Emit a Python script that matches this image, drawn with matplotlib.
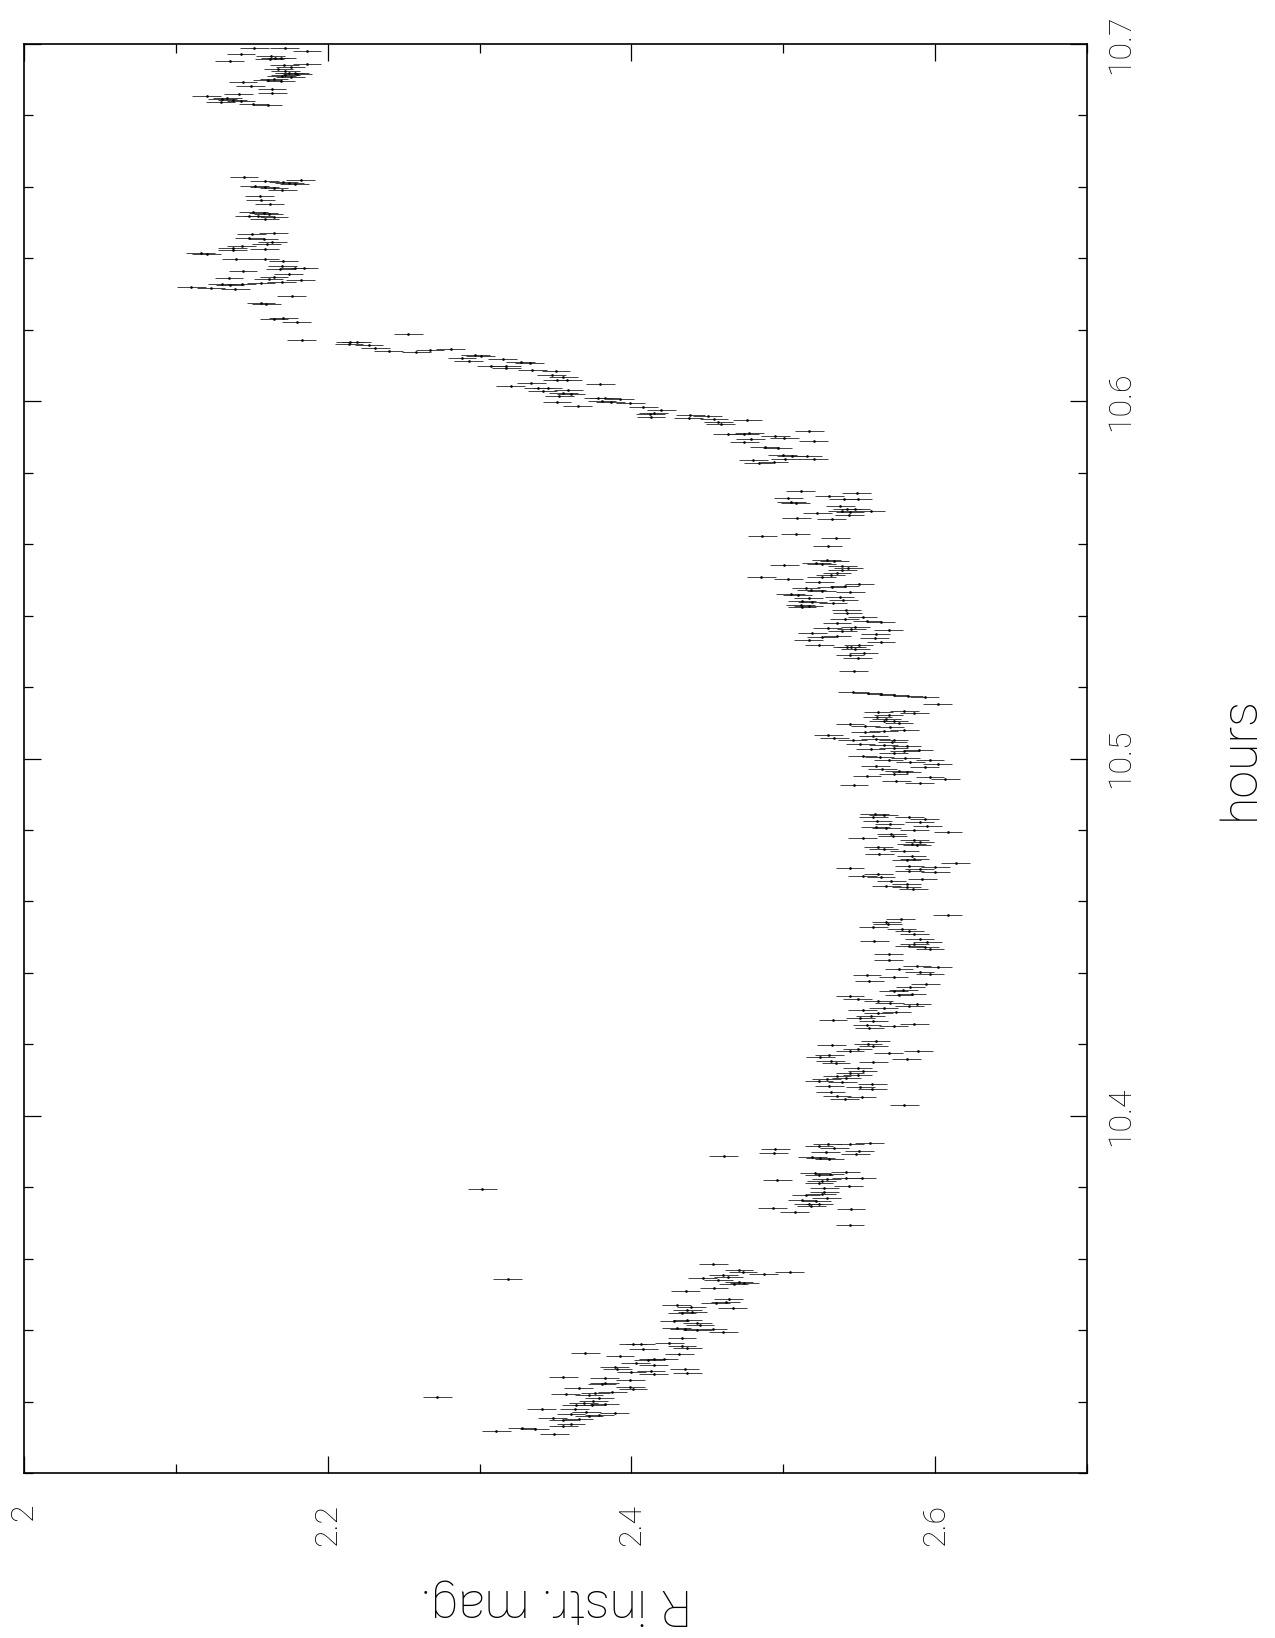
import matplotlib
matplotlib.use("Agg")
import matplotlib.pyplot as plt
from matplotlib.ticker import MultipleLocator, FixedLocator, FixedFormatter

plt.rcParams['font.family'] = ['Roboto', 'DejaVu Sans']

# (hours, R instr. mag.), top to bottom
group_top = [
    (10.6990, 2.1517), (10.6988, 2.1718), (10.6980, 2.1864), (10.6971, 2.1429),
    (10.6967, 2.1626), (10.6953, 2.1354), (10.6958, 2.1619), (10.6960, 2.1653),
    (10.6962, 2.1694), (10.6944, 2.1864), (10.6941, 2.1714), (10.6936, 2.1755),
    (10.6929, 2.1674), (10.6925, 2.1721), (10.6920, 2.1782), (10.6918, 2.1748),
    (10.6917, 2.1799), (10.6913, 2.1721), (10.6910, 2.1697), (10.6908, 2.1755),
    (10.6902, 2.1646), (10.6899, 2.1606), (10.6897, 2.1691), (10.6893, 2.1442),
    (10.6883, 2.1493), (10.6874, 2.1633), (10.6862, 2.1636), (10.6859, 2.1415),
    (10.6854, 2.1204), (10.6849, 2.1340), (10.6845, 2.1306), (10.6843, 2.1374),
    (10.6839, 2.1296), (10.6840, 2.1429), (10.6833, 2.1510), (10.6829, 2.1606),
]

group_upper = [
    (10.6628, 2.1449), (10.6616, 2.1585), (10.6613, 2.1708), (10.6619, 2.1823),
    (10.6610, 2.1748), (10.6608, 2.1782), (10.6602, 2.1520), (10.6600, 2.1585),
    (10.6598, 2.1646), (10.6591, 2.1701), (10.6575, 2.1551), (10.6563, 2.1558),
    (10.6552, 2.1619), (10.6531, 2.1510), (10.6528, 2.1578), (10.6524, 2.1612),
    (10.6519, 2.1483), (10.6518, 2.1544), (10.6516, 2.1646), (10.6510, 2.1585),
    (10.6472, 2.1643), (10.6467, 2.1500), (10.6457, 2.1483), (10.6454, 2.1578),
    (10.6446, 2.1636), (10.6439, 2.1599), (10.6434, 2.1435), (10.6430, 2.1374),
    (10.6423, 2.1374), (10.6426, 2.1585), (10.6416, 2.1163), (10.6413, 2.1204),
    (10.6399, 2.1398), (10.6397, 2.1585), (10.6393, 2.1708), (10.6379, 2.1701),
    (10.6374, 2.1782), (10.6373, 2.1844), (10.6369, 2.1687), (10.6365, 2.1442),
    (10.6356, 2.1742), (10.6348, 2.1646), (10.6346, 2.1350), (10.6342, 2.1612),
    (10.6338, 2.1823), (10.6335, 2.1697), (10.6332, 2.1561), (10.6328, 2.1435),
    (10.6327, 2.1306), (10.6325, 2.1357), (10.6320, 2.1102), (10.6318, 2.1231),
    (10.6314, 2.1391), (10.6296, 2.1762), (10.6274, 2.1561), (10.6272, 2.1595),
    (10.6233, 2.1708), (10.6229, 2.1646), (10.6222, 2.1796), (10.6172, 2.1830),
]

group_ramp = [
    (10.6188, 2.2531), (10.6167, 2.2150), (10.6165, 2.2190), (10.6161, 2.2140),
    (10.6158, 2.2272), (10.6149, 2.2313), (10.6140, 2.2401), (10.6138, 2.2582),
    (10.6144, 2.2674), (10.6146, 2.2810), (10.6130, 2.2973), (10.6126, 2.3007),
    (10.6120, 2.2884), (10.6114, 2.2929), (10.6118, 2.3153), (10.6111, 2.3272),
    (10.6108, 2.3330), (10.6099, 2.3075), (10.6098, 2.3177), (10.6092, 2.3177),
    (10.6087, 2.3347), (10.6084, 2.3503), (10.6073, 2.3476), (10.6068, 2.3551),
    (10.6059, 2.3510), (10.6059, 2.3578), (10.6052, 2.3340), (10.6048, 2.3796),
    (10.6042, 2.3204), (10.6038, 2.3388), (10.6036, 2.3449), (10.6029, 2.3415),
    (10.6031, 2.3585), (10.6022, 2.3551), (10.6019, 2.3602), (10.6014, 2.3524),
    (10.6010, 2.3782), (10.6008, 2.3823), (10.6006, 2.3925), (10.6001, 2.3806),
    (10.5998, 2.3864), (10.5995, 2.3993), (10.5999, 2.3510), (10.5988, 2.3646),
    (10.5984, 2.4078), (10.5975, 2.4197), (10.5966, 2.4146), (10.5963, 2.4123),
    (10.5956, 2.4129), (10.5961, 2.4388), (10.5958, 2.4503), (10.5953, 2.4378),
    (10.5949, 2.4544), (10.5947, 2.4762), (10.5942, 2.4571), (10.5937, 2.4588),
    (10.5918, 2.5170), (10.5909, 2.4633), (10.5907, 2.4742), (10.5911, 2.4775),
    (10.5904, 2.4946), (10.5897, 2.5007), (10.5894, 2.4786), (10.5885, 2.4742),
    (10.5888, 2.5201), (10.5872, 2.4878), (10.5868, 2.4963), (10.5849, 2.4997),
    (10.5847, 2.5055), (10.5847, 2.5157), (10.5839, 2.5014), (10.5839, 2.5201),
    (10.5835, 2.4803), (10.5828, 2.4837), (10.5830, 2.4939),
]

group_min_1 = [
    (10.5749, 2.5116), (10.5743, 2.5483), (10.5730, 2.5034), (10.5734, 2.5303),
    (10.5726, 2.5398), (10.5725, 2.5490), (10.5718, 2.5054), (10.5716, 2.5082),
    (10.5708, 2.5374), (10.5699, 2.5422), (10.5697, 2.5473), (10.5693, 2.5388),
    (10.5693, 2.5575), (10.5689, 2.5439), (10.5686, 2.5225), (10.5681, 2.5435),
    (10.5672, 2.5089), (10.5670, 2.5320), (10.5623, 2.4861), (10.5628, 2.5082),
    (10.5618, 2.5344), (10.5595, 2.5293), (10.5557, 2.5286), (10.5553, 2.5337),
    (10.5548, 2.5218), (10.5545, 2.5252), (10.5542, 2.5007), (10.5538, 2.5388),
    (10.5534, 2.5429), (10.5527, 2.5388), (10.5519, 2.5354), (10.5515, 2.5313),
    (10.5509, 2.5252), (10.5507, 2.4854), (10.5503, 2.5034), (10.5493, 2.5238),
    (10.5489, 2.5500), (10.5484, 2.5405), (10.5479, 2.5320), (10.5476, 2.5150),
    (10.5471, 2.5184), (10.5468, 2.5252), (10.5465, 2.5442), (10.5460, 2.5048),
    (10.5457, 2.5095), (10.5452, 2.5371), (10.5450, 2.5167), (10.5445, 2.5395),
    (10.5440, 2.5123), (10.5438, 2.5191), (10.5435, 2.5327), (10.5431, 2.5116),
    (10.5428, 2.5167), (10.5424, 2.5123), (10.5415, 2.5415), (10.5408, 2.5422),
    (10.5396, 2.5524), (10.5390, 2.5405), (10.5383, 2.5643), (10.5385, 2.5551),
    (10.5378, 2.5354), (10.5367, 2.5473), (10.5363, 2.5449), (10.5365, 2.5293),
    (10.5359, 2.5694), (10.5356, 2.5388), (10.5352, 2.5190), (10.5348, 2.5609),
    (10.5344, 2.5354), (10.5340, 2.5252), (10.5336, 2.5602), (10.5332, 2.5167),
    (10.5326, 2.5643), (10.5319, 2.5497), (10.5317, 2.5238), (10.5312, 2.5449),
    (10.5307, 2.5473), (10.5311, 2.5422), (10.5294, 2.5531), (10.5289, 2.5439),
    (10.5280, 2.5490), (10.5244, 2.5463),
]

group_min_2 = [
    (10.5186, 2.5456), (10.5182, 2.5558), (10.5180, 2.5643), (10.5177, 2.5728),
    (10.5174, 2.5823), (10.5171, 2.5932), (10.5152, 2.6017), (10.5130, 2.5626),
    (10.5132, 2.5796), (10.5127, 2.5864), (10.5123, 2.5694), (10.5116, 2.5619),
    (10.5111, 2.5677), (10.5105, 2.5728), (10.5100, 2.5762), (10.5104, 2.5660),
    (10.5096, 2.5439), (10.5091, 2.5541), (10.5088, 2.5701), (10.5081, 2.5796),
    (10.5078, 2.5660), (10.5074, 2.5541), (10.5067, 2.5296), (10.5063, 2.5592),
    (10.5056, 2.5337), (10.5052, 2.5456), (10.5055, 2.5609), (10.5051, 2.5728),
    (10.5045, 2.5718), (10.5040, 2.5507), (10.5037, 2.5660), (10.5034, 2.5813),
    (10.5029, 2.5728), (10.5027, 2.5575), (10.5023, 2.5891), (10.5020, 2.5796),
    (10.5016, 2.5728), (10.5007, 2.5524), (10.5004, 2.5636), (10.5001, 2.5803),
    (10.4997, 2.5966), (10.4995, 2.5694), (10.4990, 2.5837), (10.4985, 2.6017),
    (10.4980, 2.5609), (10.4977, 2.5932), (10.4972, 2.5653), (10.4966, 2.5762),
    (10.4961, 2.5813), (10.4957, 2.5728), (10.4951, 2.5551), (10.4947, 2.5966),
    (10.4944, 2.6068), (10.4938, 2.5745), (10.4931, 2.5898), (10.4927, 2.5466),
]

group_min_3 = [
    (10.4846, 2.5602), (10.4842, 2.5660), (10.4837, 2.5592), (10.4835, 2.5830),
    (10.4830, 2.5932), (10.4824, 2.5619), (10.4821, 2.5898), (10.4817, 2.5701),
    (10.4812, 2.5949), (10.4809, 2.5609), (10.4805, 2.5677), (10.4800, 2.5864),
    (10.4794, 2.6085), (10.4789, 2.5711), (10.4783, 2.5721), (10.4777, 2.5524),
    (10.4772, 2.5864), (10.4767, 2.5898), (10.4762, 2.5847), (10.4758, 2.5881),
    (10.4751, 2.5626), (10.4748, 2.5660), (10.4742, 2.5796), (10.4733, 2.5633),
    (10.4726, 2.5847), (10.4719, 2.5864), (10.4716, 2.5813), (10.4707, 2.6136),
    (10.4700, 2.5830), (10.4697, 2.6000), (10.4694, 2.5439), (10.4690, 2.5898),
    (10.4686, 2.5830), (10.4683, 2.6000), (10.4677, 2.5626), (10.4672, 2.5524),
    (10.4667, 2.5643), (10.4664, 2.5915), (10.4658, 2.5711), (10.4650, 2.5813),
    (10.4644, 2.5677), (10.4639, 2.5813), (10.4635, 2.5857),
]

group_min_4 = [
    (10.4563, 2.6083), (10.4552, 2.5772), (10.4543, 2.5677), (10.4536, 2.5687),
    (10.4527, 2.5592), (10.4522, 2.5779), (10.4518, 2.5830), (10.4510, 2.5864),
    (10.4496, 2.5898), (10.4490, 2.5599), (10.4485, 2.5949), (10.4480, 2.5864),
    (10.4475, 2.5830), (10.4471, 2.5932), (10.4466, 2.5966), (10.4452, 2.5694),
    (10.4437, 2.5694), (10.4420, 2.5881), (10.4415, 2.6017), (10.4410, 2.5762),
    (10.4403, 2.5898), (10.4396, 2.5966), (10.4393, 2.5551), (10.4387, 2.5728),
    (10.4378, 2.5565), (10.4370, 2.5939), (10.4359, 2.5837), (10.4352, 2.5789),
    (10.4348, 2.5728), (10.4342, 2.5847), (10.4339, 2.5762), (10.4334, 2.5439),
    (10.4327, 2.5490), (10.4322, 2.5626), (10.4315, 2.5701), (10.4312, 2.5881),
    (10.4308, 2.5830), (10.4303, 2.5660), (10.4297, 2.5524), (10.4291, 2.5745),
    (10.4287, 2.5626), (10.4280, 2.5575), (10.4275, 2.5507), (10.4269, 2.5327),
    (10.4264, 2.5592), (10.4258, 2.5864), (10.4254, 2.5551), (10.4250, 2.5728),
    (10.4247, 2.5565),
]

group_min_5 = [
    (10.4210, 2.5609), (10.4198, 2.5320), (10.4202, 2.5558), (10.4194, 2.5592),
    (10.4187, 2.5490), (10.4182, 2.5439), (10.4180, 2.5888), (10.4175, 2.5694),
    (10.4171, 2.5303), (10.4165, 2.5245), (10.4159, 2.5813), (10.4154, 2.5313),
    (10.4151, 2.5592), (10.4148, 2.5347), (10.4135, 2.5490), (10.4124, 2.5524),
    (10.4119, 2.5439), (10.4115, 2.5490), (10.4110, 2.5354), (10.4105, 2.5415),
    (10.4102, 2.5286), (10.4098, 2.5235), (10.4094, 2.5388), (10.4090, 2.5585),
    (10.4083, 2.5303), (10.4081, 2.5507), (10.4076, 2.5585), (10.4066, 2.5313),
    (10.4056, 2.5354), (10.4053, 2.5517), (10.4046, 2.5405), (10.4031, 2.5796),
]

group_min_6 = [
    (10.3925, 2.5568), (10.3922, 2.5293), (10.3920, 2.5439), (10.3914, 2.5235),
    (10.3911, 2.5337), (10.3908, 2.4948), (10.3902, 2.5500), (10.3896, 2.4938),
    (10.3899, 2.5279), (10.3893, 2.5476), (10.3885, 2.5191), (10.3881, 2.5245),
    (10.3878, 2.5303), (10.3887, 2.4609), (10.3840, 2.5208), (10.3843, 2.5412),
    (10.3836, 2.5306), (10.3833, 2.5235), (10.3827, 2.5415), (10.3826, 2.5517),
    (10.3822, 2.5286), (10.3820, 2.4960), (10.3816, 2.5252), (10.3812, 2.5235),
    (10.3803, 2.5432), (10.3799, 2.5269), (10.3787, 2.5269), (10.3781, 2.5252),
    (10.3778, 2.5150), (10.3771, 2.5286), (10.3765, 2.5123), (10.3762, 2.5218),
    (10.3754, 2.5167), (10.3752, 2.5235), (10.3747, 2.5184), (10.3743, 2.4929),
    (10.3740, 2.5446), (10.3731, 2.5075), (10.3694, 2.5439), (10.3794, 2.3017),
]

group_decline = [
    (10.3586, 2.4538), (10.3568, 2.4708), (10.3563, 2.4735), (10.3563, 2.5041),
    (10.3558, 2.4871), (10.3553, 2.4605), (10.3549, 2.4639), (10.3545, 2.4469),
    (10.3540, 2.4571), (10.3536, 2.4708), (10.3532, 2.4742), (10.3528, 2.4674),
    (10.3542, 2.3184), (10.3518, 2.4544), (10.3510, 2.4357), (10.3488, 2.4640),
    (10.3480, 2.4622), (10.3475, 2.4554), (10.3469, 2.4299), (10.3466, 2.4395),
    (10.3461, 2.4667), (10.3457, 2.4367), (10.3452, 2.4401), (10.3449, 2.4333),
    (10.3429, 2.4367), (10.3425, 2.4282), (10.3420, 2.4435), (10.3415, 2.4452),
    (10.3407, 2.4299), (10.3404, 2.4537), (10.3403, 2.4350), (10.3400, 2.4435),
    (10.3396, 2.4605), (10.3377, 2.4333), (10.3365, 2.4248), (10.3362, 2.4010),
    (10.3360, 2.4061), (10.3355, 2.4333), (10.3351, 2.4367), (10.3347, 2.4078),
    (10.3336, 2.3697), (10.3333, 2.4316), (10.3327, 2.3925), (10.3320, 2.4146),
    (10.3316, 2.4112), (10.3318, 2.4214), (10.3309, 2.4027), (10.3303, 2.4146),
    (10.3298, 2.3891), (10.3292, 2.3908), (10.3291, 2.4350), (10.3286, 2.4129),
    (10.3284, 2.4000), (10.3281, 2.4367), (10.3276, 2.4146), (10.3270, 2.3551),
    (10.3266, 2.3823), (10.3261, 2.3993), (10.3253, 2.3823), (10.3248, 2.3806),
    (10.3242, 2.3993), (10.3239, 2.3653), (10.3234, 2.4010), (10.3228, 2.3874),
    (10.3225, 2.3762), (10.3222, 2.3568), (10.3218, 2.3721), (10.3209, 2.3789),
    (10.3202, 2.3748), (10.3197, 2.3687), (10.3193, 2.3823), (10.3190, 2.3636),
    (10.3189, 2.3738), (10.3180, 2.3626), (10.3178, 2.3408), (10.3172, 2.3704),
    (10.3168, 2.3891), (10.3166, 2.3602), (10.3163, 2.3789), (10.3160, 2.3721),
    (10.3155, 2.3483), (10.3152, 2.3653), (10.3147, 2.3551), (10.3136, 2.3602),
    (10.3131, 2.3551), (10.3125, 2.3279), (10.3122, 2.3364), (10.3118, 2.3109),
    (10.3108, 2.3493), (10.3214, 2.2721),
]

mag_err = 0.0095

x_ticks = [2.0, 2.2, 2.4, 2.6]
x_ticklabels = ["2", "2.2", "2.4", "2.6"]
y_ticks = [10.4, 10.5, 10.6, 10.7]
y_ticklabels = ["10.4", "10.5", "10.6", "10.7"]

groups = [group_top, group_upper, group_ramp, group_min_1, group_min_2,
          group_min_3, group_min_4, group_min_5, group_min_6, group_decline]
hours = [h for g in groups for h, m in g]
mag = [m for g in groups for h, m in g]

fig = plt.figure(figsize=(12.75, 16.38), dpi=100)
ax = fig.add_axes([24 / 1275, 1 - 1473 / 1638, 1063 / 1275, 1429 / 1638])

ax.errorbar(mag, hours, xerr=mag_err, fmt='.', ms=1.8, color='black',
            ecolor='#222222', elinewidth=0.6, capsize=0)

ax.set_xlim(2.0, 2.7)
ax.set_ylim(10.3, 10.7)

ax.xaxis.set_major_locator(FixedLocator(x_ticks))
ax.xaxis.set_major_formatter(FixedFormatter(x_ticklabels))
ax.xaxis.set_minor_locator(MultipleLocator(0.1))
ax.yaxis.set_major_locator(FixedLocator(y_ticks))
ax.yaxis.set_major_formatter(FixedFormatter(y_ticklabels))
ax.yaxis.set_minor_locator(MultipleLocator(0.02))

ax.tick_params(which='both', direction='in', top=True, bottom=True,
               left=True, right=True, labelleft=False, labelright=True,
               width=0.9, colors='black')
ax.tick_params(which='major', length=12)
ax.tick_params(which='minor', length=6.5)
ax.tick_params(axis='x', which='major', pad=22, labelsize=23, labelrotation=90)
ax.tick_params(axis='y', which='major', pad=14, labelsize=23, labelrotation=90)
for lab in ax.get_yticklabels():
    lab.set_va('center')

for sp in ax.spines.values():
    sp.set_linewidth(1.2)

ax.set_xlabel("R instr. mag.", fontsize=36, rotation=180, va='center')
ax.xaxis.set_label_coords(0.5, -0.091)
ax.yaxis.set_label_position('right')
ax.set_ylabel("hours", fontsize=36, rotation=90, va='center', ha='center')
ax.yaxis.set_label_coords((1240 - 24) / 1063, 0.5)

for t in ax.get_xticklabels() + ax.get_yticklabels():
    t.set_fontweight('light')
ax.xaxis.label.set_fontweight('light')
ax.yaxis.label.set_fontweight('light')

fig.savefig("out.png", dpi=100)
